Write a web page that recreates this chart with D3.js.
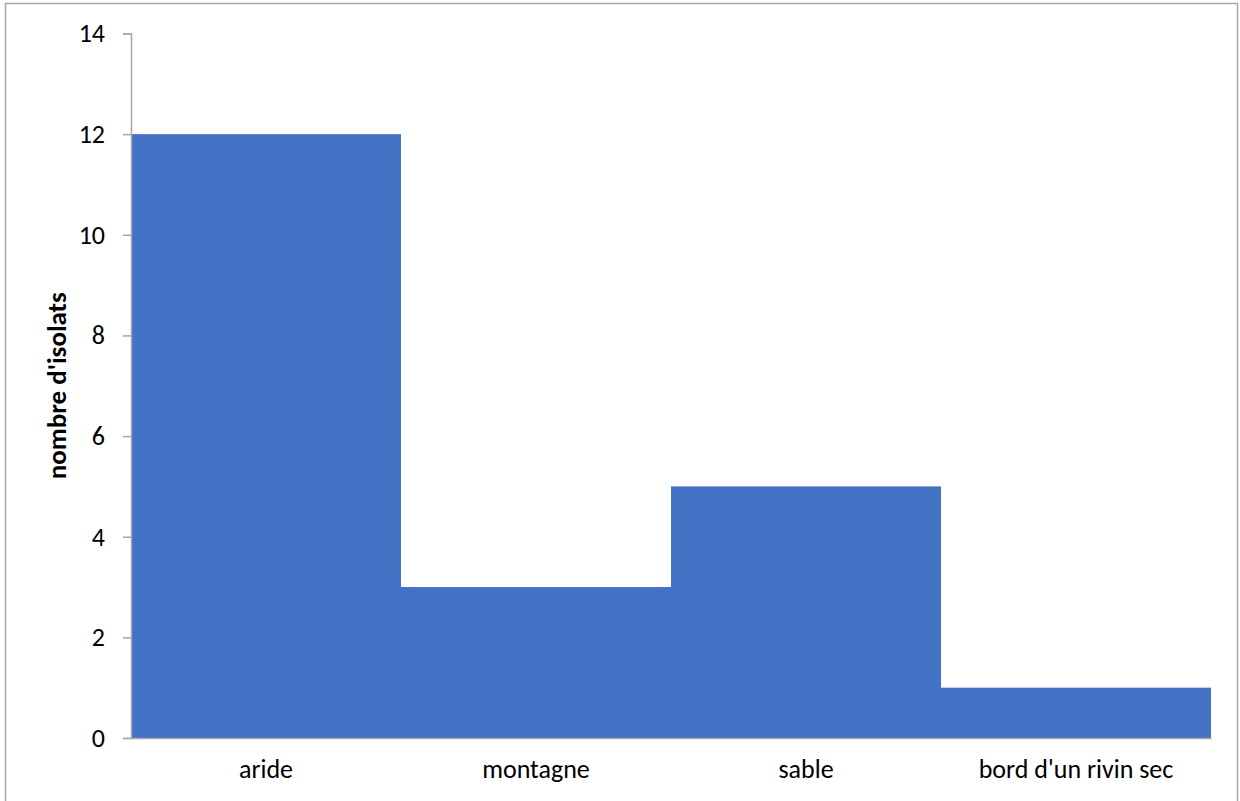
<!DOCTYPE html>
<html>
<head>
<meta charset="utf-8">
<script src="https://cdn.jsdelivr.net/npm/d3@7"></script>
<style>
  html, body { margin: 0; padding: 0; background: #fff; }
  svg { display: block; font-family: Carlito, "Open Sans", "Noto Sans", sans-serif; }
</style>
</head>
<body>
<svg id="chart" width="1240" height="801"></svg>
<script>
// Number of isolates per habitat type
const categories = ["aride", "montagne", "sable", "bord d'un rivin sec"];
const isolats = [12, 3, 5, 1];
const yTicks = [0, 2, 4, 6, 8, 10, 12, 14];

const svg = d3.select("#chart");
const W = 1240, H = 801;
const margin = { left: 131, right: 29, top: 33.5, bottom: 63 };
const FONT = 'Carlito, "Open Sans", "Noto Sans", sans-serif';

// chart frame
svg.append("rect")
  .attr("x", 5.5).attr("y", 3.5)
  .attr("width", W - 8).attr("height", H + 10)
  .attr("fill", "#fff").attr("stroke", "#a6a6a6").attr("stroke-width", 1.5);

const x = d3.scaleBand()
  .domain(categories)
  .range([margin.left, W - margin.right])
  .paddingInner(0).paddingOuter(0);

const y = d3.scaleLinear()
  .domain([0, 14])
  .range([H - margin.bottom, margin.top]);

// bars
svg.append("g")
  .selectAll("rect")
  .data(categories)
  .join("rect")
  .attr("x", d => x(d))
  .attr("y", (d, i) => y(isolats[i]))
  .attr("width", x.bandwidth())
  .attr("height", (d, i) => y(0) - y(isolats[i]))
  .attr("fill", "#4472c4");

// y axis
const yAxis = svg.append("g")
  .attr("transform", `translate(${margin.left},0)`)
  .call(d3.axisLeft(y).tickValues(yTicks).tickSize(8).tickPadding(18));
yAxis.select(".domain").attr("stroke", "#a6a6a6").attr("stroke-width", 1.5);
yAxis.selectAll(".tick line").attr("stroke", "#a6a6a6").attr("stroke-width", 1.5);
yAxis.selectAll(".tick text")
  .attr("font-size", 26).attr("fill", "#000")
  .attr("font-family", FONT);

// x axis
const xAxis = svg.append("g")
  .attr("transform", `translate(0,${y(0)})`)
  .call(d3.axisBottom(x).tickSize(0).tickPadding(22));
xAxis.select(".domain").attr("stroke", "#a6a6a6").attr("stroke-width", 1.5);
xAxis.selectAll(".tick text")
  .attr("font-size", 26).attr("fill", "#000")
  .attr("font-family", FONT);

// y axis title
svg.append("text")
  .attr("transform", `translate(66,${(y(0) + y(14)) / 2}) rotate(-90)`)
  .attr("text-anchor", "middle")
  .attr("font-size", 27)
  .attr("font-weight", "bold")
  .attr("fill", "#000")
  .attr("font-family", FONT)
  .text("nombre d'isolats");
</script>
</body>
</html>
